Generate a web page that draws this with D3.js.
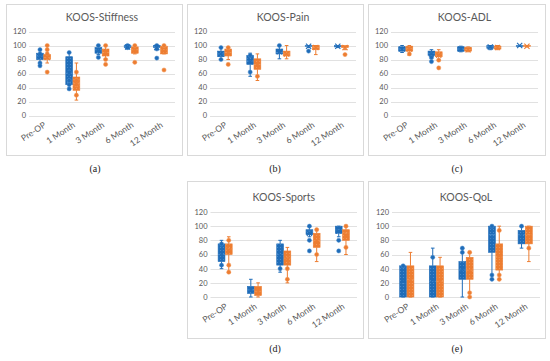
<!DOCTYPE html>
<html><head><meta charset="utf-8">
<script src="https://cdn.jsdelivr.net/npm/d3@7"></script>
<style>html,body{margin:0;padding:0;background:#fff;}svg{display:block;}</style>
</head><body>
<svg id="chart" width="550" height="361"></svg>
<script>
const categories = ["Pre-OP", "1 Month", "3 Month", "6 Month", "12 Month"];
const yTicks = [0, 20, 40, 60, 80, 100, 120];
const seriesNames = ["Group A", "Group B"];

// box stats: lo (whisker min), q1, med, q3, hi (whisker max), mean, pts (visible points)
const stiffnessBlue = [
  {lo:75, q1:80, med:85, q3:89, hi:94, mean:84, pts:[94, 88, 75, 71]},
  {lo:37, q1:44, med:60, q3:84, hi:90, mean:61, pts:[90, 62, 50, 44, 38]},
  {lo:87, q1:89, med:94, q3:97, hi:100, mean:93, pts:[100, 83]},
  {lo:95, q1:97, med:100, q3:100, hi:100, mean:98, pts:[100, 97]},
  {lo:95, q1:97, med:100, q3:100, hi:100, mean:97, pts:[100, 95, 82]}
];
const stiffnessOrange = [
  {lo:75, q1:80, med:83, q3:87, hi:100, mean:83, pts:[100, 94, 88, 62]},
  {lo:22, q1:36, med:46, q3:55, hi:75, mean:46, pts:[62, 50, 44, 29]},
  {lo:81, q1:85, med:90, q3:95, hi:100, mean:89, pts:[100, 80, 73]},
  {lo:88, q1:89, med:94, q3:98, hi:100, mean:93, pts:[100, 76]},
  {lo:88, q1:88, med:94, q3:99, hi:100, mean:92, pts:[100, 65]}
];
const painBlue = [
  {lo:80, q1:84, med:88, q3:92, hi:97, mean:88, pts:[97, 80]},
  {lo:56, q1:73, med:78, q3:86, hi:89, mean:77, pts:[86, 62]},
  {lo:81, q1:88, med:90, q3:95, hi:100, mean:91, pts:[100]},
  {lo:97, q1:99, med:100, q3:100, hi:100, mean:99, pts:[92]},
  {lo:97, q1:98, med:100, q3:100, hi:100, mean:99, pts:[]}
];
const painOrange = [
  {lo:80, q1:85, med:90, q3:95, hi:97, mean:89, pts:[97, 73]},
  {lo:50, q1:66, med:73, q3:81, hi:88, mean:72, pts:[56]},
  {lo:81, q1:85, med:88, q3:92, hi:100, mean:88, pts:[]},
  {lo:87, q1:94, med:97, q3:100, hi:100, mean:97, pts:[]},
  {lo:94, q1:97, med:100, q3:100, hi:100, mean:97, pts:[87]}
];
const adlBlue = [
  {lo:90, q1:92, med:95, q3:98, hi:100, mean:95, pts:[]},
  {lo:81, q1:86, med:89, q3:92, hi:94, mean:88, pts:[83, 77]},
  {lo:91, q1:92, med:95, q3:98, hi:99, mean:95, pts:[]},
  {lo:94, q1:96, med:98, q3:100, hi:100, mean:98, pts:[]},
  {lo:99, q1:100, med:100, q3:100, hi:100, mean:100, pts:[]}
];
const adlOrange = [
  {lo:86, q1:92, med:96, q3:99, hi:100, mean:95, pts:[88]},
  {lo:80, q1:84, med:88, q3:91, hi:94, mean:86, pts:[79, 68]},
  {lo:91, q1:92, med:94, q3:97, hi:98, mean:94, pts:[]},
  {lo:94, q1:95, med:97, q3:99, hi:100, mean:97, pts:[]},
  {lo:98, q1:99, med:100, q3:100, hi:100, mean:99, pts:[]}
];
const sportsBlue = [
  {lo:40, q1:50, med:60, q3:75, hi:80, mean:61, pts:[75, 45]},
  {lo:0, q1:5, med:10, q3:15, hi:25, mean:10, pts:[]},
  {lo:35, q1:45, med:60, q3:75, hi:80, mean:59, pts:[40]},
  {lo:85, q1:88, med:93, q3:95, hi:100, mean:90, pts:[100, 80, 65]},
  {lo:85, q1:90, med:95, q3:100, hi:100, mean:93, pts:[80, 65]}
];
const sportsOrange = [
  {lo:35, q1:60, med:68, q3:75, hi:85, mean:66, pts:[80, 45, 35]},
  {lo:0, q1:2, med:8, q3:15, hi:20, mean:8, pts:[]},
  {lo:20, q1:45, med:55, q3:65, hi:70, mean:53, pts:[40, 25]},
  {lo:50, q1:70, med:80, q3:90, hi:95, mean:79, pts:[95, 60]},
  {lo:60, q1:80, med:90, q3:95, hi:100, mean:87, pts:[100, 70]}
];
const qolBlue = [
  {lo:0, q1:0, med:19, q3:44, hi:44, mean:22, pts:[44]},
  {lo:0, q1:0, med:22, q3:44, hi:69, mean:24, pts:[56]},
  {lo:0, q1:25, med:38, q3:50, hi:69, mean:39, pts:[69, 63]},
  {lo:25, q1:63, med:88, q3:100, hi:100, mean:79, pts:[100, 31, 25]},
  {lo:69, q1:75, med:88, q3:94, hi:100, mean:87, pts:[100]}
];
const qolOrange = [
  {lo:0, q1:0, med:25, q3:44, hi:63, mean:24, pts:[]},
  {lo:0, q1:0, med:22, q3:44, hi:56, mean:23, pts:[]},
  {lo:0, q1:25, med:38, q3:56, hi:63, mean:37, pts:[63, 6, 0]},
  {lo:25, q1:38, med:56, q3:75, hi:100, mean:58, pts:[94, 31, 25]},
  {lo:50, q1:75, med:88, q3:100, hi:100, mean:85, pts:[69]}
];

const colors = ["#1F6CB8", "#ED7D31"];
const lightColors = ["#4C8FD0", "#F29A5C"];

const panels = [
  {title:"KOOS-Stiffness", label:"(a)", data:[stiffnessBlue, stiffnessOrange],
   frame:[6,4,182,155], plot:[29,31.5,175,115.5], labelPos:[95,172]},
  {title:"KOOS-Pain", label:"(b)", data:[painBlue, painOrange],
   frame:[187,4,363,155], plot:[210,31.5,356,115.5], labelPos:[275,172]},
  {title:"KOOS-ADL", label:"(c)", data:[adlBlue, adlOrange],
   frame:[368,4,545,155], plot:[391,31.5,538,115.5], labelPos:[457,172]},
  {title:"KOOS-Sports", label:"(d)", data:[sportsBlue, sportsOrange],
   frame:[187,181,363,338], plot:[210.5,212,357,297], labelPos:[275,352]},
  {title:"KOOS-QoL", label:"(e)", data:[qolBlue, qolOrange],
   frame:[368,181,545,338], plot:[392,212,540,297], labelPos:[457,352]}
];

const svg = d3.select("#chart");
const defs = svg.append("defs");
colors.forEach((c, i) => {
  const p = defs.append("pattern").attr("id", "pat" + i)
    .attr("patternUnits", "userSpaceOnUse").attr("width", 3).attr("height", 3);
  p.append("rect").attr("width", 3).attr("height", 3).attr("fill", c);
  p.append("circle").attr("cx", 1.5).attr("cy", 1.5).attr("r", 0.6).attr("fill", lightColors[i]);
});

const font = "Lato, 'Open Sans', sans-serif";
const grey = "#595959";

panels.forEach(pn => {
  const [fx0, fy0, fx1, fy1] = pn.frame;
  const [px0, py0, px1, py1] = pn.plot;
  const g = svg.append("g");
  g.append("rect").attr("x", fx0 + 0.5).attr("y", fy0 + 0.5)
    .attr("width", fx1 - fx0).attr("height", fy1 - fy0)
    .attr("fill", "#fff").attr("stroke", "#D9D9D9").attr("stroke-width", 1);

  g.append("text").attr("x", (px0 + px1) / 2).attr("y", fy0 + (fy0 < 10 ? 16.5 : 20))
    .attr("text-anchor", "middle").attr("font-family", font).attr("font-size", 10.5)
    .attr("font-weight", 400).attr("fill", grey).text(pn.title);

  const y = d3.scaleLinear().domain([0, 120]).range([py1, py0]);
  const x0 = d3.scaleBand().domain(categories).range([px0, px1]).paddingInner(0.52).paddingOuter(0.26);
  const x1 = d3.scaleBand().domain(seriesNames).range([0, x0.bandwidth()]).paddingInner(0.06);

  // gridlines
  g.append("g").selectAll("line").data(yTicks).join("line")
    .attr("x1", px0).attr("x2", px1)
    .attr("y1", d => Math.round(y(d)) + 0.5).attr("y2", d => Math.round(y(d)) + 0.5)
    .attr("stroke", "#D9D9D9").attr("stroke-width", 0.8);

  // y axis labels
  const yAxis = d3.axisLeft(y).tickValues(yTicks).tickSize(0).tickPadding(3);
  const ya = g.append("g").attr("transform", `translate(${px0},0)`).call(yAxis);
  ya.select(".domain").remove();
  ya.selectAll("text").attr("font-family", font).attr("font-size", 7.5).attr("fill", grey);

  // x axis labels
  const xAxis = d3.axisBottom(x0).tickSize(0).tickPadding(0);
  const xa = g.append("g").attr("transform", `translate(0,${py1})`).call(xAxis);
  xa.select(".domain").remove();
  xa.selectAll("text").attr("font-family", font).attr("font-size", 8.5).attr("fill", grey)
    .attr("text-anchor", "end").attr("dy", 0)
    .attr("transform", "translate(3,11) rotate(-33)");

  // boxes
  pn.data.forEach((series, si) => {
    const col = colors[si];
    series.forEach((b, ci) => {
      const bx = x0(categories[ci]) + x1(seriesNames[si]);
      const bw = x1.bandwidth();
      const cx = bx + bw / 2;
      const sg = g.append("g");
      // whiskers
      sg.append("line").attr("x1", cx).attr("x2", cx).attr("y1", y(b.hi)).attr("y2", y(b.q3))
        .attr("stroke", col).attr("stroke-width", 1);
      sg.append("line").attr("x1", cx).attr("x2", cx).attr("y1", y(b.q1)).attr("y2", y(b.lo))
        .attr("stroke", col).attr("stroke-width", 1);
      [b.hi, b.lo].forEach(v => sg.append("line").attr("x1", cx - 1.8).attr("x2", cx + 1.8)
        .attr("y1", y(v)).attr("y2", y(v)).attr("stroke", col).attr("stroke-width", 1));
      // box
      sg.append("rect").attr("x", bx).attr("width", bw)
        .attr("y", y(b.q3)).attr("height", Math.max(0.8, y(b.q1) - y(b.q3)))
        .attr("fill", `url(#pat${si})`).attr("stroke", col).attr("stroke-width", 0.6);
      // median
      sg.append("line").attr("x1", bx).attr("x2", bx + bw).attr("y1", y(b.med)).attr("y2", y(b.med))
        .attr("stroke", lightColors[si]).attr("stroke-width", 0.8);
      // points
      sg.selectAll("circle").data(b.pts).join("circle")
        .attr("cx", cx).attr("cy", d => y(d)).attr("r", 2.1)
        .attr("fill", col).attr("stroke", lightColors[si]).attr("stroke-width", 0.5);
      // mean X
      const my = y(b.mean), s = 2.6;
      sg.append("path").attr("d", `M${cx - s},${my - s}L${cx + s},${my + s}M${cx - s},${my + s}L${cx + s},${my - s}`)
        .attr("stroke", col).attr("stroke-width", 1.1).attr("fill", "none");
    });
  });

  svg.append("text").attr("x", pn.labelPos[0]).attr("y", pn.labelPos[1])
    .attr("text-anchor", "middle").attr("font-family", "'Liberation Serif', 'DejaVu Serif', serif")
    .attr("font-size", 10).attr("fill", "#222").text(pn.label);
});
</script>
</body></html>
